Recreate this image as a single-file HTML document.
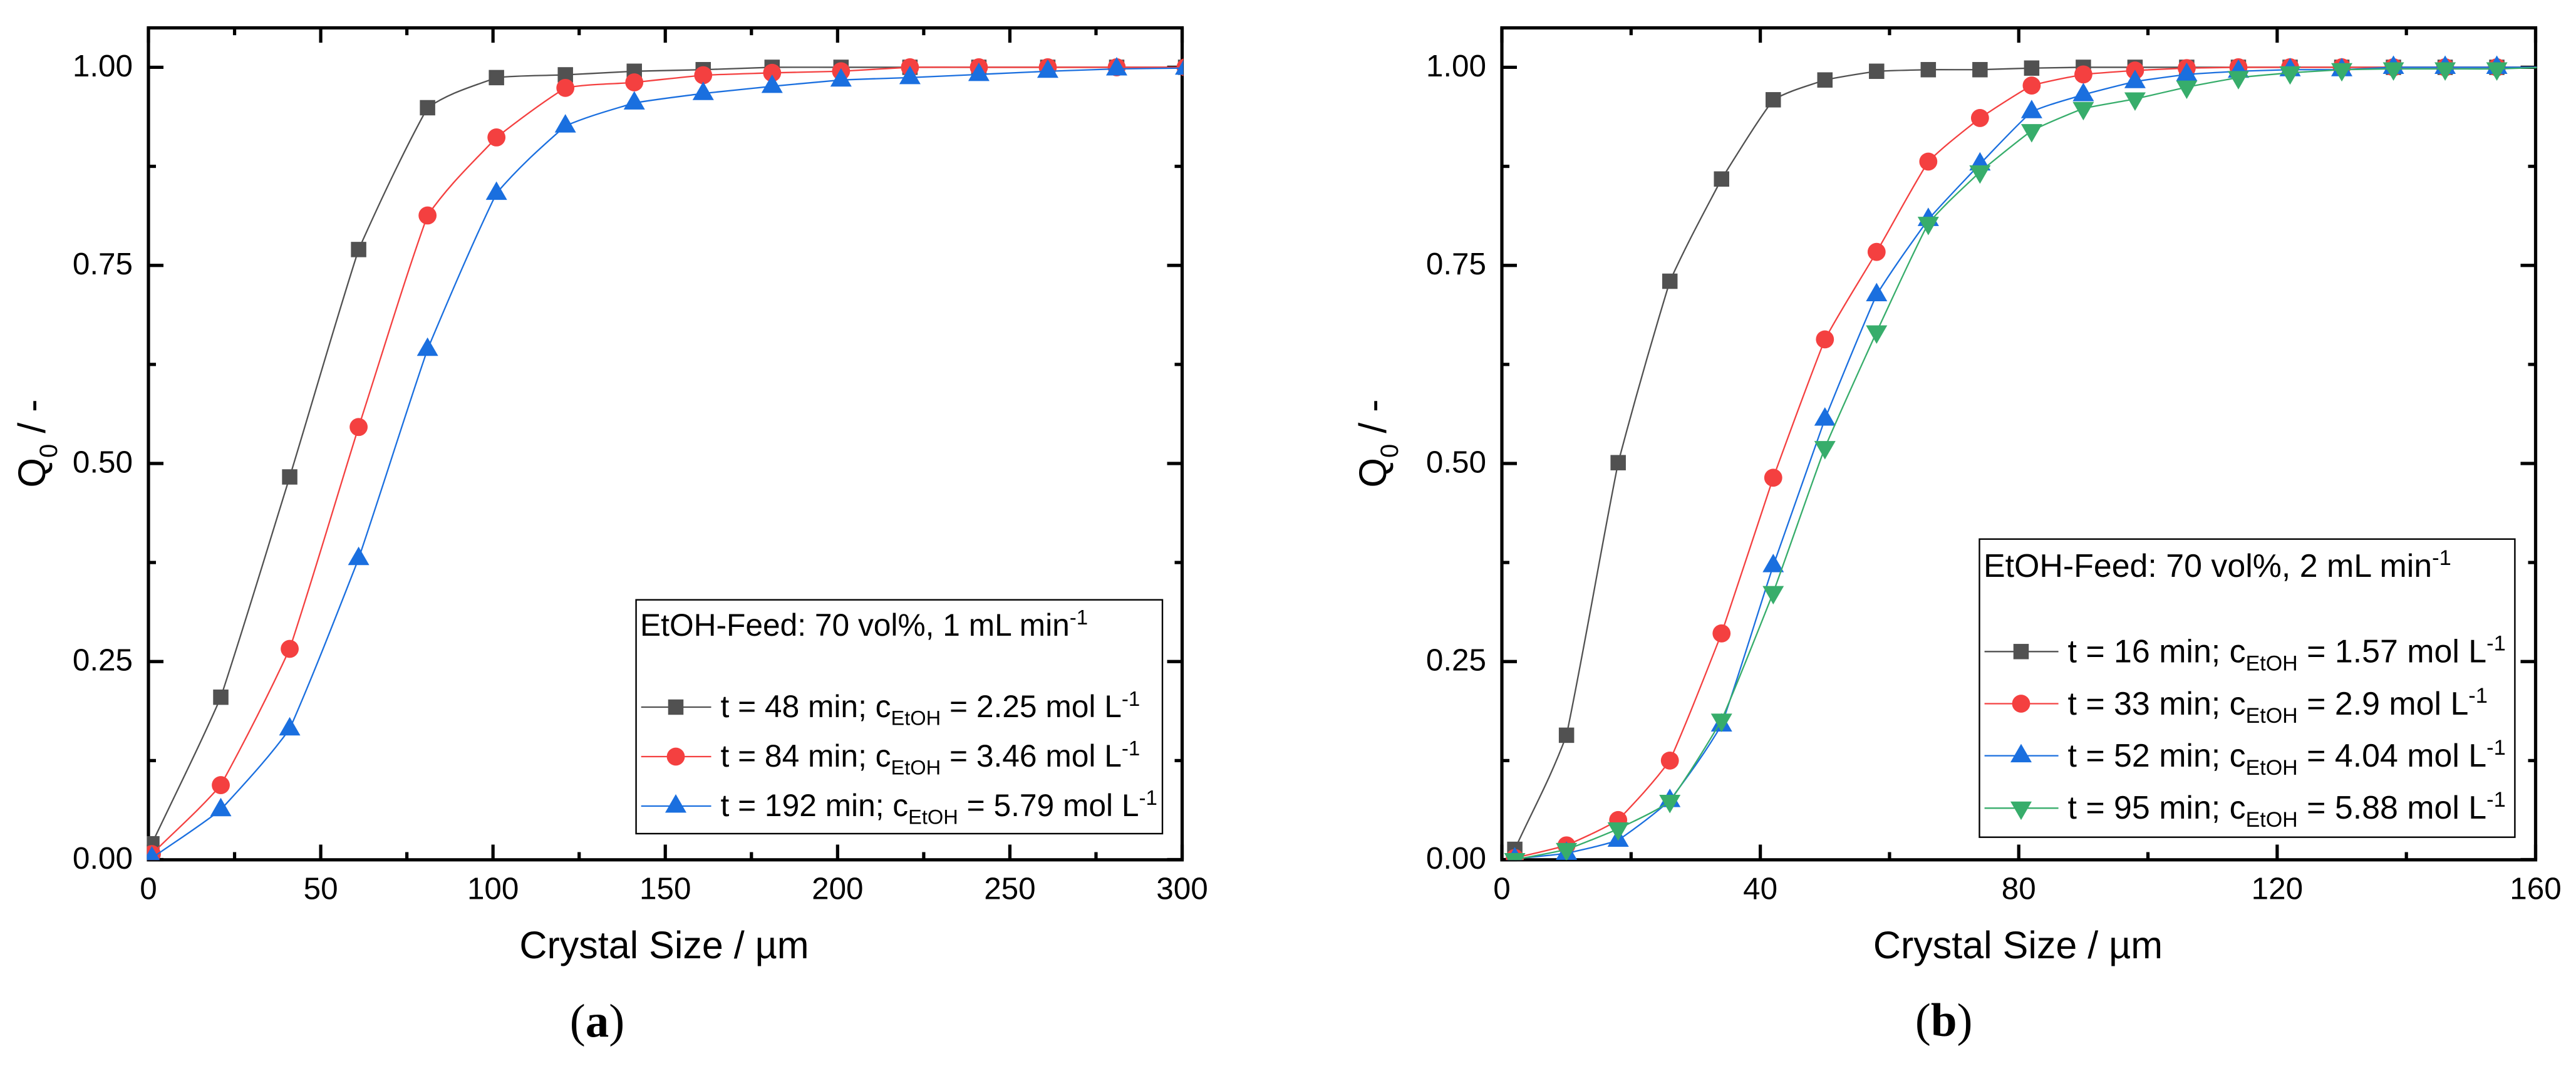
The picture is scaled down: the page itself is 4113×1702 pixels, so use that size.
<!DOCTYPE html>
<html lang="en">
<head>
<meta charset="utf-8">
<title>Crystal size distributions</title>
<style>
html,body{margin:0;padding:0;background:#fff;}
body{width:4113px;height:1702px;overflow:hidden;}
svg{display:block;}
text{font-family:"Liberation Sans",Arial,sans-serif;fill:#000;white-space:pre;}
.cap{font-family:"Liberation Serif","Times New Roman",serif;font-size:75px;}
.lt{font-size:49.7px;}
.lb{font-size:51.9px;}
</style>
</head>
<body>
<svg id="fig" xmlns="http://www.w3.org/2000/svg" width="4113" height="1702" viewBox="0 0 4113 1702">
  <rect x="0" y="0" width="4113" height="1702" fill="#fff"/>
  <g id="panel-a"></g>
  <g id="panel-b"></g>

  <text x="1060.5" y="1530" font-size="61" text-anchor="middle">Crystal Size / µm</text>
  <text x="3222" y="1530" font-size="61" text-anchor="middle">Crystal Size / µm</text>
  <text transform="translate(72 708) rotate(-90)" font-size="61" text-anchor="middle">Q<tspan font-size="40" dy="19">0</tspan><tspan dy="-19"> / -</tspan></text>
  <text transform="translate(2213 708) rotate(-90)" font-size="61" text-anchor="middle">Q<tspan font-size="40" dy="19">0</tspan><tspan dy="-19"> / -</tspan></text>

  <text class="cap" x="953.5" y="1655" text-anchor="middle">(<tspan font-weight="bold">a</tspan>)</text>
  <text class="cap" x="3103.7" y="1654" text-anchor="middle">(<tspan font-weight="bold">b</tspan>)</text>

  <g id="legend-a">
    <rect x="1015.6" y="957.7" width="840.4" height="373.3" fill="#fff" stroke="#000" stroke-width="2.4"/>
    <text class="lt" x="1022" y="1014.8">EtOH-Feed: 70 vol%, 1 mL min<tspan font-size="33" dy="-18">-1</tspan></text>
    <text class="lt" x="1150.5" y="1145">t = 48 min; c<tspan font-size="32.6" dy="12.6">EtOH</tspan><tspan dy="-12.6"> = 2.25 mol L</tspan><tspan font-size="33" dy="-18">-1</tspan></text>
    <text class="lt" x="1150.5" y="1224">t = 84 min; c<tspan font-size="32.6" dy="12.6">EtOH</tspan><tspan dy="-12.6"> = 3.46 mol L</tspan><tspan font-size="33" dy="-18">-1</tspan></text>
    <text class="lt" x="1150.5" y="1303">t = 192 min; c<tspan font-size="32.6" dy="12.6">EtOH</tspan><tspan dy="-12.6"> = 5.79 mol L</tspan><tspan font-size="33" dy="-18">-1</tspan></text>
  </g>
  <g id="legend-b">
    <rect x="3160.5" y="860.7" width="854.9" height="476" fill="#fff" stroke="#000" stroke-width="2.4"/>
    <text class="lb" x="3167" y="921">EtOH-Feed: 70 vol%, 2 mL min<tspan font-size="34.5" dy="-19">-1</tspan></text>
    <text class="lb" x="3301.5" y="1057.7">t = 16 min; c<tspan font-size="34" dy="13">EtOH</tspan><tspan dy="-13"> = 1.57 mol L</tspan><tspan font-size="34.5" dy="-19">-1</tspan></text>
    <text class="lb" x="3301.5" y="1141">t = 33 min; c<tspan font-size="34" dy="13">EtOH</tspan><tspan dy="-13"> = 2.9 mol L</tspan><tspan font-size="34.5" dy="-19">-1</tspan></text>
    <text class="lb" x="3301.5" y="1224">t = 52 min; c<tspan font-size="34" dy="13">EtOH</tspan><tspan dy="-13"> = 4.04 mol L</tspan><tspan font-size="34.5" dy="-19">-1</tspan></text>
    <text class="lb" x="3301.5" y="1307">t = 95 min; c<tspan font-size="34" dy="13">EtOH</tspan><tspan dy="-13"> = 5.88 mol L</tspan><tspan font-size="34.5" dy="-19">-1</tspan></text>
  </g>
</svg>
<script>
// ---- data, panel (a) ----
const crystalSizeA = [1,21,41,61,81,101,121,141,161,181,201,221,241,261,281,301];
const q48min  = [0.020,0.205,0.483,0.770,0.949,0.987,0.9905,0.995,0.997,1,1,1,1,1,1,1];
const q84min  = [0.007,0.094,0.266,0.546,0.813,0.9115,0.974,0.981,0.990,0.993,0.995,1,1,1,1,1];
const q192min = [0.002,0.063,0.165,0.380,0.644,0.841,0.926,0.955,0.967,0.976,0.984,0.987,0.991,0.995,0.998,0.999];
const xTicksA = [0,50,100,150,200,250,300];
const xMinorTicksA = [25,75,125,175,225,275];
const xTickLabelsA = ['0','50','100','150','200','250','300'];

// ---- data, panel (b) ----
const crystalSizeB = [2,10,18,26,34,42,50,58,66,74,82,90,98,106,114,122,130,138,146,154,162];
const q16min = [0.013,0.157,0.501,0.730,0.859,0.959,0.984,0.995,0.997,0.997,0.999,1,1,1,1,1,1,1,1,1,1];
const q33min = [0.002,0.018,0.050,0.125,0.2855,0.482,0.6566,0.767,0.881,0.936,0.977,0.991,0.996,0.999,1,1,1,1,1,1,1];
const q52min = [0.001,0.008,0.0245,0.0746,0.170,0.371,0.556,0.713,0.808,0.878,0.944,0.9655,0.982,0.991,0.995,0.997,0.997,1,1,1,1];
const q95min = [0,0.0127,0.0387,0.0735,0.176,0.337,0.520,0.666,0.803,0.868,0.920,0.948,0.960,0.975,0.987,0.993,0.997,0.998,0.998,0.998,1];
const xTicksB = [0,40,80,120,160];
const xMinorTicksB = [20,60,100,140];
const xTickLabelsB = ['0','40','80','120','160'];

// ---- shared y axis ----
const yTicks = [0,0.25,0.5,0.75,1];
const yMinorTicks = [0.125,0.375,0.625,0.875];
const yTickLabels = ['0.00','0.25','0.50','0.75','1.00'];

const NS = 'http://www.w3.org/2000/svg';
const COLORS = {black:'#515151', red:'#F44040', blue:'#1A6FDF', green:'#37AD6B'};

function mk(tag, attrs, parent){
  const el = document.createElementNS(NS, tag);
  for (const k in attrs) el.setAttribute(k, attrs[k]);
  parent.appendChild(el);
  return el;
}

// nearly straight connection with only a slight rounding at each point
function splinePath(pts){
  const BLEND = 0.3;
  const n = pts.length, d = [], m = [];
  for (let i = 0; i < n - 1; i++) d.push((pts[i+1][1]-pts[i][1])/(pts[i+1][0]-pts[i][0]));
  m.push(d[0]);
  for (let i = 1; i < n - 1; i++) m.push((d[i-1]+d[i])/2);
  m.push(d[n-2]);
  let s = 'M' + pts[0][0].toFixed(2) + ' ' + pts[0][1].toFixed(2);
  for (let i = 0; i < n - 1; i++){
    const h = (pts[i+1][0]-pts[i][0])/3;
    const t0 = d[i] + BLEND*(m[i]-d[i]);
    const t1 = d[i] + BLEND*(m[i+1]-d[i]);
    s += 'C' + (pts[i][0]+h).toFixed(2) + ' ' + (pts[i][1]+t0*h).toFixed(2) + ' '
      + (pts[i+1][0]-h).toFixed(2) + ' ' + (pts[i+1][1]-t1*h).toFixed(2) + ' '
      + pts[i+1][0].toFixed(2) + ' ' + pts[i+1][1].toFixed(2);
  }
  return s;
}

function marker(kind, x, y, color, parent){
  let el;
  if (kind === 'square'){
    el = mk('rect', {x:x-12.25, y:y-12.25, width:24.5, height:24.5, fill:color}, parent);
  } else if (kind === 'circle'){
    el = mk('circle', {cx:x, cy:y, r:14.4, fill:color}, parent);
  } else if (kind === 'up'){
    el = mk('polygon', {points:(x-17)+','+(y+10.5)+' '+(x+17)+','+(y+10.5)+' '+x+','+(y-19), fill:color}, parent);
  } else {
    el = mk('polygon', {points:(x-17)+','+(y-10.5)+' '+(x+17)+','+(y-10.5)+' '+x+','+(y+19), fill:color}, parent);
  }
  return el;
}

function drawPanel(root, id, x0, x1, xMax, xTicks, xMinor, xLabels, series){
  const top = 44.2, bottom = 1372.5, yMax = 1.05;
  const sx = v => x0 + v/xMax*(x1-x0);
  const sy = v => bottom - v/yMax*(bottom-top);

  const clip = mk('clipPath', {id:'clip-'+id}, root);
  mk('rect', {x:x0-2.5, y:top, width:x1-x0+4.5, height:bottom-top+0.8}, clip);

  const frame = mk('rect', {x:x0, y:top+0.3, width:x1-x0, height:bottom-top, fill:'none', stroke:'#000', 'stroke-width':5.2}, root);
  
  

  const tickG = mk('g', {stroke:'#000', 'stroke-width':5.2}, root);
  
  
  const MAJ = 24, MIN = 12;
  const xt = (v, len) => {
    const x = sx(v);
    mk('line', {x1:x, x2:x, y1:bottom, y2:bottom-len}, tickG);
    mk('line', {x1:x, x2:x, y1:top, y2:top+len}, tickG);
  };
  const yt = (v, len) => {
    const y = sy(v);
    mk('line', {x1:x0, x2:x0+len, y1:y, y2:y}, tickG);
    mk('line', {x1:x1, x2:x1-len, y1:y, y2:y}, tickG);
  };
  xTicks.forEach(v => xt(v, MAJ));
  xMinor.forEach(v => xt(v, MIN));
  yTicks.forEach(v => yt(v, MAJ));
  yMinorTicks.forEach(v => yt(v, MIN));

  xTicks.forEach((v, i) => {
    const t = mk('text', {x:sx(v), y:1435.7, 'font-size':49.4, 'text-anchor':'middle'}, root);
    t.textContent = xLabels[i];
    
    
  });
  yTicks.forEach((v, i) => {
    const t = mk('text', {x:x0-25, y:sy(v)+14.3, 'font-size':49.4, 'text-anchor':'end'}, root);
    t.textContent = yTickLabels[i];
    
    
  });

  const plot = mk('g', {'clip-path':'url(#clip-'+id+')'}, root);
  series.forEach(s => {
    const g = mk('g', {}, plot);
    
    
    const pts = s.xs.map((v, i) => [sx(v), sy(s.ys[i])]);
    const line = mk('path', {d:splinePath(pts), fill:'none', stroke:s.color, 'stroke-width':2.3}, g);
    
    
    pts.forEach(p => {
      const m = marker(s.kind, p[0], p[1], s.color, g);
      
      
    });
  });
}

function legendKey(parent, xa, xb, xm, y, color, kind, name){
  const g = mk('g', {}, parent);
  
  
  mk('line', {x1:xa, x2:xb, y1:y, y2:y, stroke:color, 'stroke-width':2.3}, g);
  marker(kind, xm, y, color, g);
}

drawPanel(document.getElementById('panel-a'), 'a', 237, 1887.5, 300, xTicksA, xMinorTicksA, xTickLabelsA, [
  {name:'48-min',  xs:crystalSizeA, ys:q48min,  color:COLORS.black, kind:'square'},
  {name:'84-min',  xs:crystalSizeA, ys:q84min,  color:COLORS.red,   kind:'circle'},
  {name:'192-min', xs:crystalSizeA, ys:q192min, color:COLORS.blue,  kind:'up'}
]);
drawPanel(document.getElementById('panel-b'), 'b', 2398, 4048.5, 160, xTicksB, xMinorTicksB, xTickLabelsB, [
  {name:'16-min', xs:crystalSizeB, ys:q16min, color:COLORS.black, kind:'square'},
  {name:'33-min', xs:crystalSizeB, ys:q33min, color:COLORS.red,   kind:'circle'},
  {name:'52-min', xs:crystalSizeB, ys:q52min, color:COLORS.blue,  kind:'up'},
  {name:'95-min', xs:crystalSizeB, ys:q95min, color:COLORS.green, kind:'down'}
]);

const legA = document.getElementById('legend-a');
const legB = document.getElementById('legend-b');
legendKey(legA, 1023.7, 1135.5, 1079, 1129, COLORS.black, 'square', '48-min');
legendKey(legA, 1023.7, 1135.5, 1079, 1208, COLORS.red, 'circle', '84-min');
legendKey(legA, 1023.7, 1135.5, 1079, 1287, COLORS.blue, 'up', '192-min');
legendKey(legB, 3168.6, 3286.6, 3227, 1040.3, COLORS.black, 'square', '16-min');
legendKey(legB, 3168.6, 3286.6, 3227, 1123.5, COLORS.red, 'circle', '33-min');
legendKey(legB, 3168.6, 3286.6, 3227, 1206.6, COLORS.blue, 'up', '52-min');
legendKey(legB, 3168.6, 3286.6, 3227, 1290.3, COLORS.green, 'down', '95-min');
</script>
</body>
</html>
